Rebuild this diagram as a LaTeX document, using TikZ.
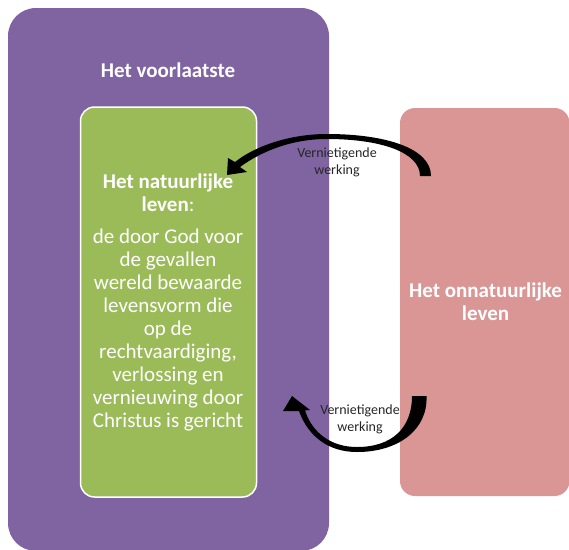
\documentclass[tikz,border=0pt]{standalone}
\usepackage{fontspec}
\setmainfont{Carlito}
\usetikzlibrary{positioning}
\definecolor{paars}{HTML}{8064A2}
\definecolor{groen}{HTML}{9BBB59}
\definecolor{roze}{HTML}{D99694}
\tikzset{
  titel/.style={text=white, font=\fontsize{21}{22.5}\selectfont\bfseries, align=center, inner sep=0pt},
  tekst/.style={text=white, font=\fontsize{21}{23}\selectfont, align=center, inner sep=0pt},
  werking/.style={text=black!85, font=\fontsize{14}{16.5}\selectfont, align=center, inner sep=0pt},
  pijl/.style={fill=black}
}
\begin{document}
\begin{tikzpicture}[x=1pt,y=-1pt]
        \useasboundingbox (0,0) rectangle (569,549);

        % Het voorlaatste
        \fill[paars, rounded corners=28pt] (8,8) rectangle (329,551);
        \node[titel] (voorlaatste) at (168,70) {Het voorlaatste};

        % Het natuurlijke leven
        \draw[white, line width=1.5pt, fill=groen, rounded corners=14pt] (80.5,107) rectangle (256.5,497);
        \node[tekst, anchor=north] (natuurlijk) at (168,174)
            {\textbf{Het natuurlijke}\\ \textbf{leven}:\\[9pt]
             de door God voor\\ de gevallen\\ wereld bewaarde\\ levensvorm die\\ op de\\
             rechtvaardiging,\\ verlossing en\\ vernieuwing door\\ Christus is gericht};

        % Het onnatuurlijke leven
        \fill[roze, rounded corners=15pt] (400,108) rectangle (569.5,496);
        \node[titel, anchor=north] (onnatuurlijk) at (485.5,283) {Het onnatuurlijke\\ leven};

        % Vernietigende werking (boven)
        \fill[pijl] (431,176) .. controls (431,148) and (385,134) .. (327,134)
            .. controls (290,134) and (255,146) .. (235,162)
            -- (228,158) -- (227,175) -- (247,172) -- (240,167)
            .. controls (262,151) and (292,139) .. (327,139)
            .. controls (380,139) and (420,152) .. (420,176) -- cycle;
        \node[werking, anchor=north] (werking1) at (337,148) {Vernietigende\\ werking};

        % Vernietigende werking (onder)
        \fill[pijl] (426.5,396) .. controls (428,430) and (398,452) .. (357,452)
            .. controls (328,452) and (308,436) .. (299,411)
            -- (283,411) -- (292,396) -- (310,410) -- (305,410.5)
            .. controls (312,432) and (330,447) .. (357,447)
            .. controls (392,447) and (412,428) .. (412,396) -- cycle;
        \node[werking, anchor=north] (werking2) at (360,405) {Vernietigende\\ werking};

\end{tikzpicture}
\end{document}
